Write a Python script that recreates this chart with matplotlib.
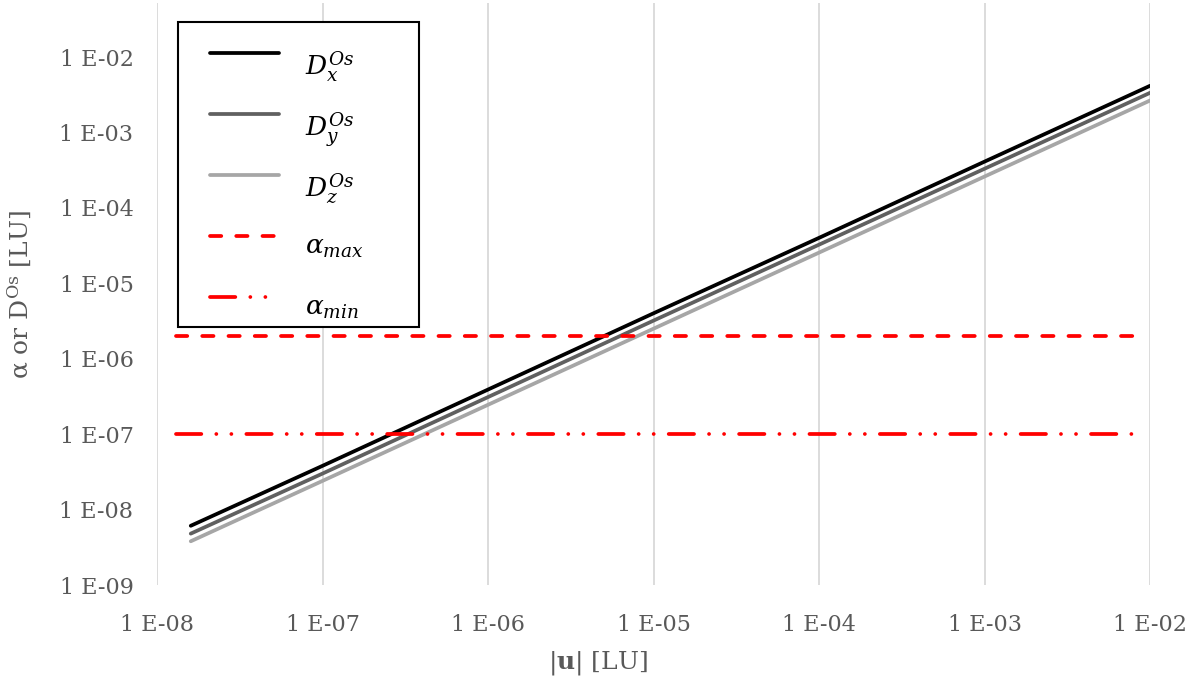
import numpy as np
import matplotlib
matplotlib.use("Agg")
import matplotlib.pyplot as plt
from matplotlib.lines import Line2D
from matplotlib.patches import Rectangle
from matplotlib.ticker import FixedLocator, FuncFormatter, NullLocator

plt.rcParams['font.family'] = 'DejaVu Serif'
plt.rcParams['mathtext.fontset'] = 'dejavuserif'

# displacement magnitude |u| and the three D components
u = [1.6e-8, 1e-7, 1e-6, 1e-5, 1e-4, 1e-3, 1e-2]
D_x = [6.1e-9, 3.8e-8, 3.9e-7, 4.0e-6, 4.0e-5, 4.1e-4, 4.15e-3]
D_y = [4.8e-9, 3.0e-8, 3.1e-7, 3.2e-6, 3.25e-5, 3.3e-4, 3.35e-3]
D_z = [3.8e-9, 2.4e-8, 2.45e-7, 2.5e-6, 2.55e-5, 2.6e-4, 2.65e-3]

# alpha bounds
u_alpha = [1.3e-8, 8.7e-3]
alpha_max = [2e-6, 2e-6]
alpha_min = [1e-7, 1e-7]

xticks = [1e-8, 1e-7, 1e-6, 1e-5, 1e-4, 1e-3, 1e-2]
yticks = [1e-9, 1e-8, 1e-7, 1e-6, 1e-5, 1e-4, 1e-3, 1e-2]

grey = '#595959'
W, H = 1196, 690
lw = 2.7
dash_max = (3, 4)
dash_min = (6.75, 4, 0.01, 4, 0.01, 4)

# label, colour, dashes (None = solid), baseline offset of the legend text
series = [
    (r'$D_x^{Os}$', 'black', None, 22),
    (r'$D_y^{Os}$', '#606060', None, 22),
    (r'$D_z^{Os}$', '#a6a6a6', None, 22),
    (r'$\alpha_{max}$', 'red', dash_max, 18),
    (r'$\alpha_{min}$', 'red', dash_min, 18),
]

fig = plt.figure(figsize=(W / 100, H / 100), dpi=100)
ax = fig.add_axes([157/W, 1-585/H, (1150-157)/W, (585-3)/H])

ax.plot(u, D_x, color='black', lw=lw, solid_capstyle='round')
ax.plot(u, D_y, color='#606060', lw=lw, solid_capstyle='round')
ax.plot(u, D_z, color='#a6a6a6', lw=lw, solid_capstyle='round')
ax.plot(u_alpha, alpha_max, color='red', lw=lw, dash_capstyle='round', dashes=dash_max)
ax.plot(u_alpha, alpha_min, color='red', lw=lw, dash_capstyle='round', dashes=dash_min)

ax.set_xscale('log')
ax.set_yscale('log')
ax.set_xlim(1e-8, 1e-2)
ax.set_ylim(1e-9, 5.2e-2)

fmt = FuncFormatter(lambda v, p: '1 E-%02d' % round(-np.log10(v)))
ax.xaxis.set_major_locator(FixedLocator(xticks))
ax.yaxis.set_major_locator(FixedLocator(yticks))
ax.xaxis.set_minor_locator(NullLocator())
ax.yaxis.set_minor_locator(NullLocator())
ax.xaxis.set_major_formatter(fmt)
ax.yaxis.set_major_formatter(fmt)
ax.tick_params(axis='both', length=0, labelsize=16, labelcolor=grey)
ax.tick_params(axis='x', pad=21)
ax.tick_params(axis='y', pad=17)

for s in ax.spines.values():
    s.set_visible(False)
ax.grid(True, axis='x', color='#d9d9d9', lw=1.3)
ax.set_axisbelow(True)

fig.text(0.5, 1-663/H, r'|$\mathbf{u}$| [LU]', ha='center', va='center',
         fontsize=18, color=grey)
fig.text(20/W, 1-294/H, r'α or D$^{\mathrm{Os}}$ [LU]', ha='center', va='center',
         rotation=90, fontsize=18, color=grey)

# legend box drawn by hand so the rows are evenly spaced like the original
fig.patches.append(Rectangle((178/W, 1-327/H), (419-178)/W, (327-22)/H,
                             transform=fig.transFigure, facecolor='white',
                             edgecolor='black', lw=1.5, zorder=5))
for i, (lab, col, dash, off) in enumerate(series):
    y = 53 + 61 * i
    ln = Line2D([210/W, 279/W], [1-y/H, 1-y/H], transform=fig.transFigure,
                color=col, lw=lw, dash_capstyle='round', solid_capstyle='round', zorder=6)
    if dash:
        ln.set_dashes(dash)
    fig.lines.append(ln)
    fig.text(305/W, 1-(y+off)/H, lab, ha='left', va='baseline', fontsize=19,
             color='black', zorder=6)

fig.savefig('out.png', dpi=100)
